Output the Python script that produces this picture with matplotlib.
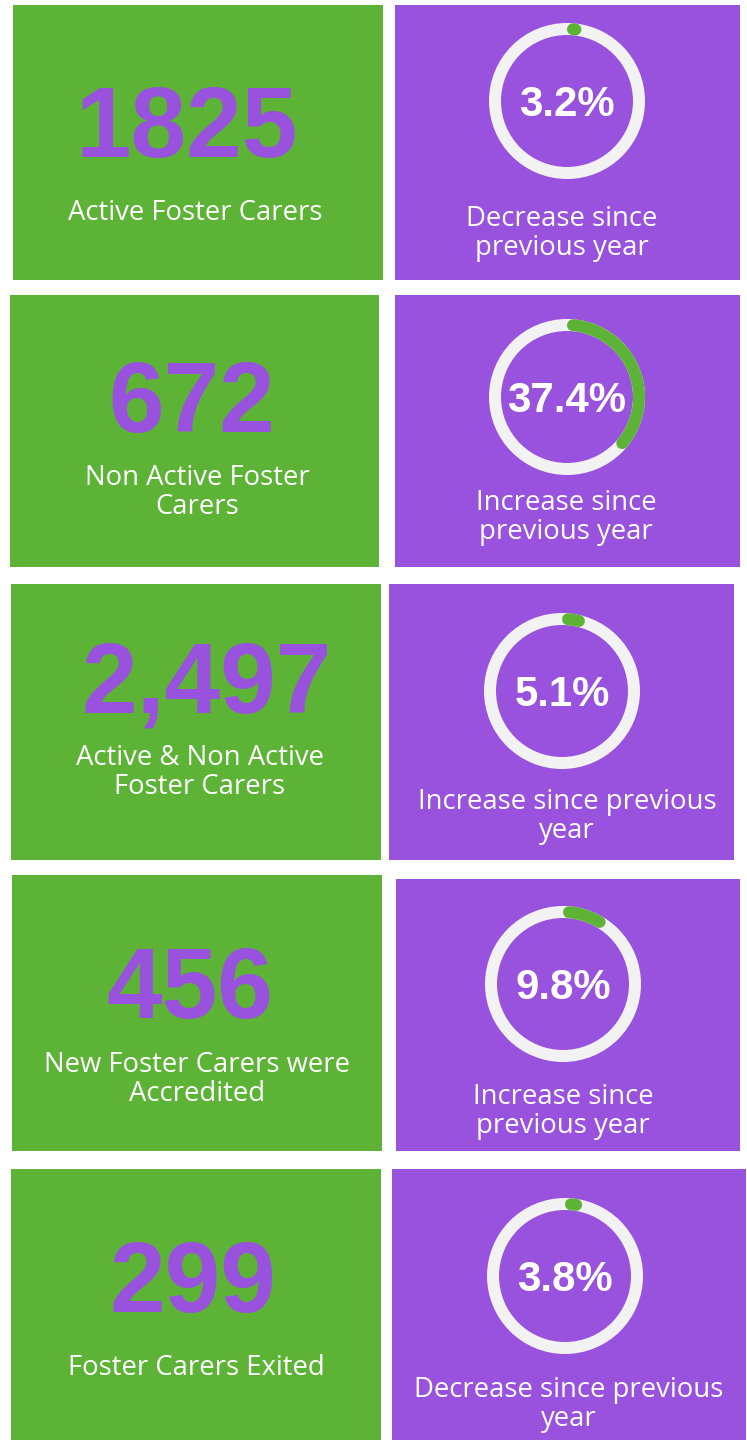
import numpy as np
import matplotlib
matplotlib.use("Agg")
import matplotlib.pyplot as plt
from matplotlib.patches import Rectangle, Circle

# ---------------- data ----------------
counts = ["1825", "672", "2,497", "456", "299"]
count_labels = [
    ["Active Foster Carers"],
    ["Non Active Foster", "Carers"],
    ["Active & Non Active", "Foster Carers"],
    ["New Foster Carers were", "Accredited"],
    ["Foster Carers Exited"],
]
pct_values = [3.2, 37.4, 5.1, 9.8, 3.8]
pct_labels = [
    ["Decrease since", "previous year"],
    ["Increase since", "previous year"],
    ["Increase since previous", "year"],
    ["Increase since", "previous year"],
    ["Decrease since previous", "year"],
]

# ---------------- style / layout ----------------
GREEN = "#5DB336"
PURPLE = "#9852DE"
RING = "#F2F2F2"
W, H = 747, 1440
DPI = 100

# panel boxes (x0, y0, x1, y1) in pixels
green_boxes = [(13, 5, 383, 280), (10, 295, 379, 567), (11, 584, 381, 860),
               (12, 875, 382, 1151), (11, 1169, 381, 1440)]
purple_boxes = [(395, 5, 740, 280), (395, 295, 740, 567), (389, 584, 734, 860),
                (396, 879, 740, 1151), (392, 1169, 746, 1440)]
num_pos = [(187, 157), (192, 432), (207, 712), (190, 1018), (193, 1312)]
lab_x = [195, 197, 200, 197, 196]
lab_base = [[220], [485, 514], [765, 794], [1072, 1101], [1375]]
gauge_c = [(567, 101), (567, 397), (562, 691), (563, 984), (565, 1276)]
plab_x = [562, 566, 567, 563, 569]
plab_base = [[226, 255], [510, 539], [809, 838], [1104, 1133], [1397, 1426]]

R = 72.0        # ring centre-line radius (px)
RW = 12.0       # ring width (px)
LAB_PX = 27.5   # label font size (px)
px2pt = 72.0 / DPI

fig = plt.figure(figsize=(W / DPI, H / DPI), dpi=DPI)
fig.patch.set_facecolor("white")
ax = fig.add_axes([0, 0, 1, 1])
ax.set_xlim(0, W)
ax.set_ylim(H, 0)
ax.set_aspect("equal")
ax.axis("off")

NUM_FONT = dict(family=["Liberation Sans", "DejaVu Sans"], weight="bold")
LAB_FONT = dict(family=["Open Sans", "DejaVu Sans"])

for i in range(len(counts)):
    gx0, gy0, gx1, gy1 = green_boxes[i]
    ax.add_patch(Rectangle((gx0, gy0), gx1 - gx0, gy1 - gy0, facecolor=GREEN,
                           edgecolor="none", zorder=1))
    px0, py0, px1, py1 = purple_boxes[i]
    ax.add_patch(Rectangle((px0, py0), px1 - px0, py1 - py0, facecolor=PURPLE,
                           edgecolor="none", zorder=1))

    # big number
    nx, ny = num_pos[i]
    ax.text(nx, ny, counts[i], color=PURPLE, fontsize=100 * px2pt,
            ha="center", va="baseline", zorder=3, **NUM_FONT)
    for line, yb in zip(count_labels[i], lab_base[i]):
        ax.text(lab_x[i], yb, line, color="white", fontsize=LAB_PX * px2pt,
                ha="center", va="baseline", zorder=3, **LAB_FONT)

    # gauge ring
    cx, cy = gauge_c[i]
    ax.add_patch(Circle((cx, cy), R, facecolor="none", edgecolor=RING,
                        linewidth=RW * px2pt, zorder=2))
    # progress arc (clockwise from top); round caps included in arc length
    total = np.deg2rad(pct_values[i] / 100.0 * 360.0)
    cap = (RW / 2) / R
    a0, a1 = cap, total - cap
    if a1 < a0:
        a0 = a1 = total / 2
    th = np.linspace(a0, a1, 200)
    ax.plot(cx + R * np.sin(th), cy - R * np.cos(th), color=GREEN,
            linewidth=RW * px2pt, solid_capstyle="round", zorder=3)

    ax.text(cx, cy + 15, f"{pct_values[i]:.1f}%", color="white",
            fontsize=42 * px2pt, ha="center", va="baseline", zorder=4, **NUM_FONT)
    for line, yb in zip(pct_labels[i], plab_base[i]):
        ax.text(plab_x[i], yb, line, color="white", fontsize=LAB_PX * px2pt,
                ha="center", va="baseline", zorder=3, **LAB_FONT)

fig.savefig("out.png", dpi=DPI, facecolor="white")
